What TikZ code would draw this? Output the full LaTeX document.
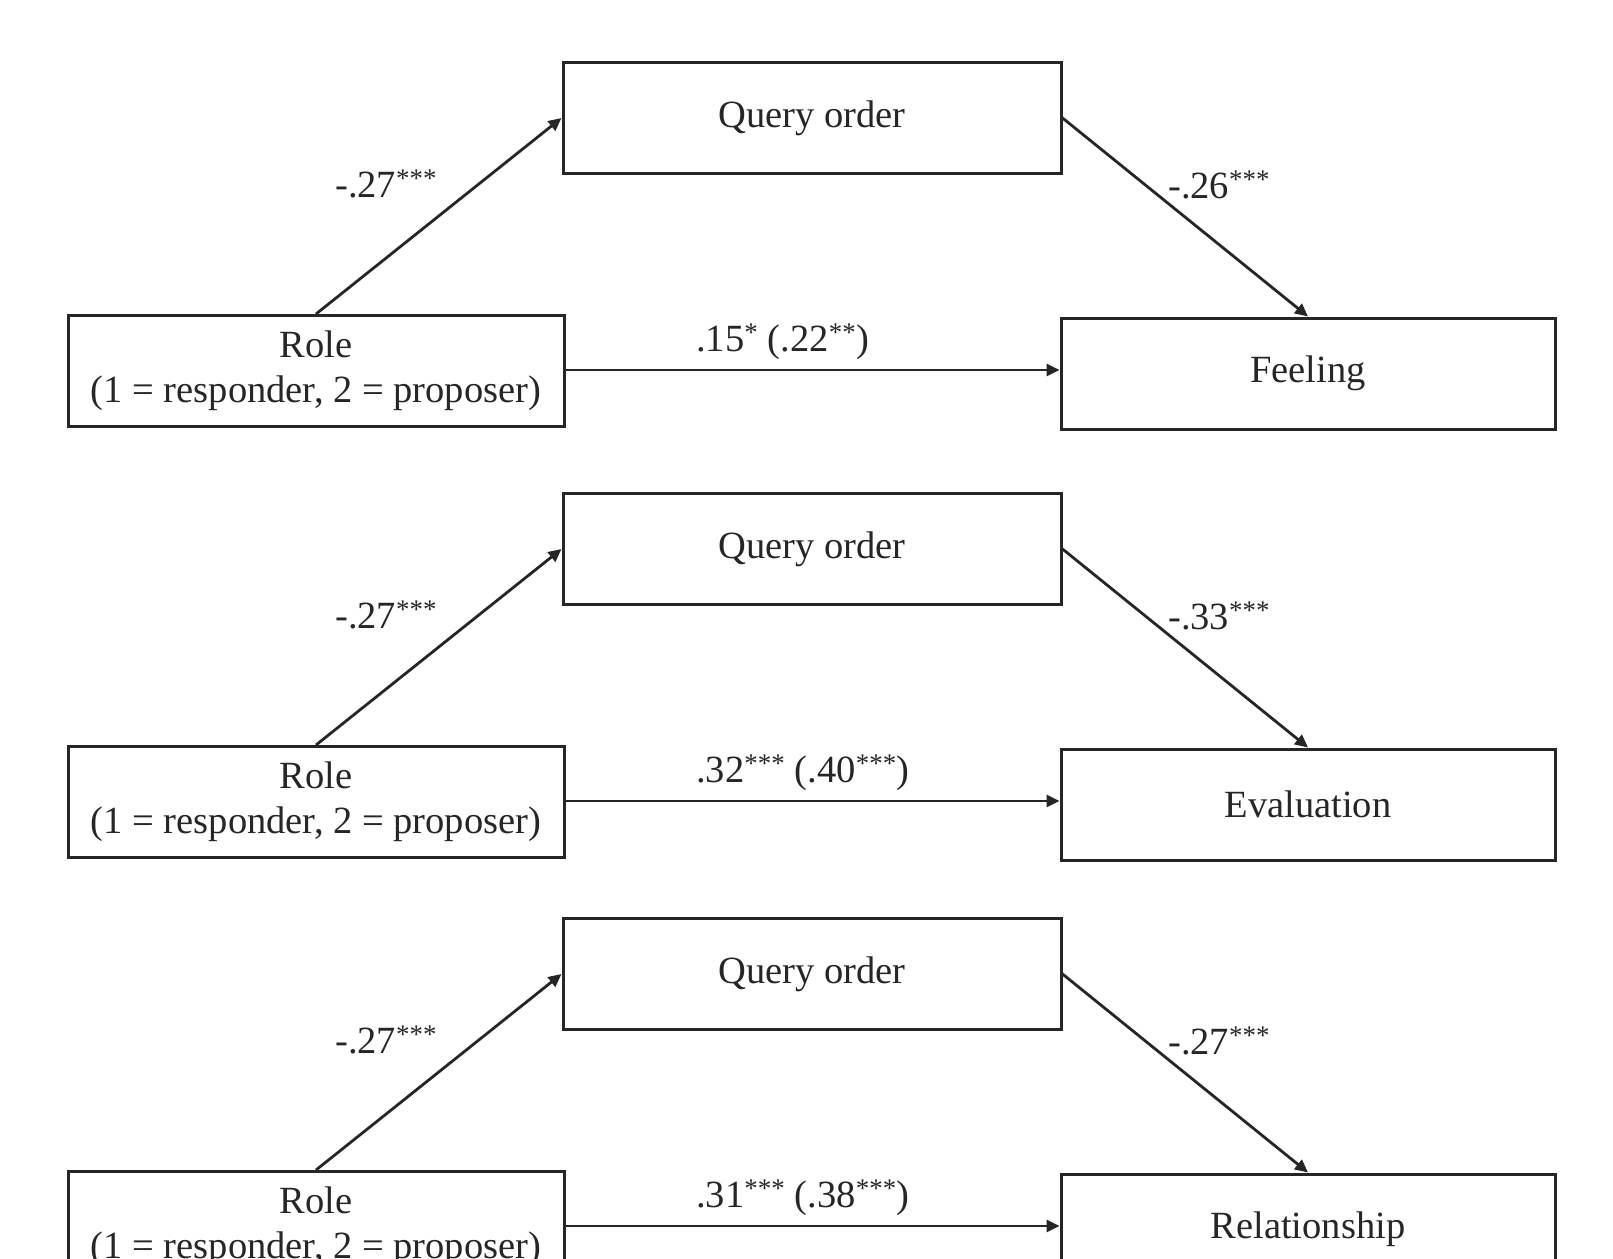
\documentclass[tikz,border=0pt]{standalone}
\usepackage{fontspec}
\setmainfont{Liberation Serif}
\usetikzlibrary{arrows.meta}
\newcommand\fs{\fontsize{38.5}{45}\selectfont}
\newcommand\mypanel[6]{%
\begin{scope}[shift={(0,#2)}]
\node[box, minimum width=498pt] (q#1) at (812,118) {Query order};
\node[box, minimum width=496pt] (r#1) at (316,371) {Role\\(1 = responder, 2 = proposer)};
\node[box, minimum width=494pt] (o#1) at (1308,373.5) {#3};
\draw[arr] (r#1.north) -- (q#1.west);
\draw[arr] (q#1.east) -- (o#1.north);
\draw[arr] ([yshift=1pt]r#1.east) -- ([yshift=1pt]r#1.east -| o#1.west);
\node[lab] (la#1) at (335,197) {#4};
\node[lab] (lb#1) at (1168,198) {#5};
\node[lab] (lc#1) at (696,351) {#6};
\end{scope}}
\begin{document}
\begin{tikzpicture}[x=1pt,y=-1pt,
  box/.style={draw=black!85, line width=3pt, minimum height=111pt, inner sep=0pt,
    align=center, font=\fs, text=black!85},
  arr/.style={draw=black!85, line width=2.8pt, -{Triangle[length=13pt,width=12pt]}},
  lab/.style={anchor=base west, font=\fs, inner sep=0pt, text=black!85}]
\useasboundingbox (0,0) rectangle (1613,1258);
\clip (0,0) rectangle (1613,1258);
\fill[white] (0,0) rectangle (1613,1258);
\mypanel{1}{0}{Feeling}{-.27\textsuperscript{***}}{-.26\textsuperscript{***}}{.15\textsuperscript{*} (.22\textsuperscript{**})}
\mypanel{2}{431}{Evaluation}{-.27\textsuperscript{***}}{-.33\textsuperscript{***}}{.32\textsuperscript{***} (.40\textsuperscript{***})}
\mypanel{3}{856}{Relationship}{-.27\textsuperscript{***}}{-.27\textsuperscript{***}}{.31\textsuperscript{***} (.38\textsuperscript{***})}
\end{tikzpicture}
\end{document}
